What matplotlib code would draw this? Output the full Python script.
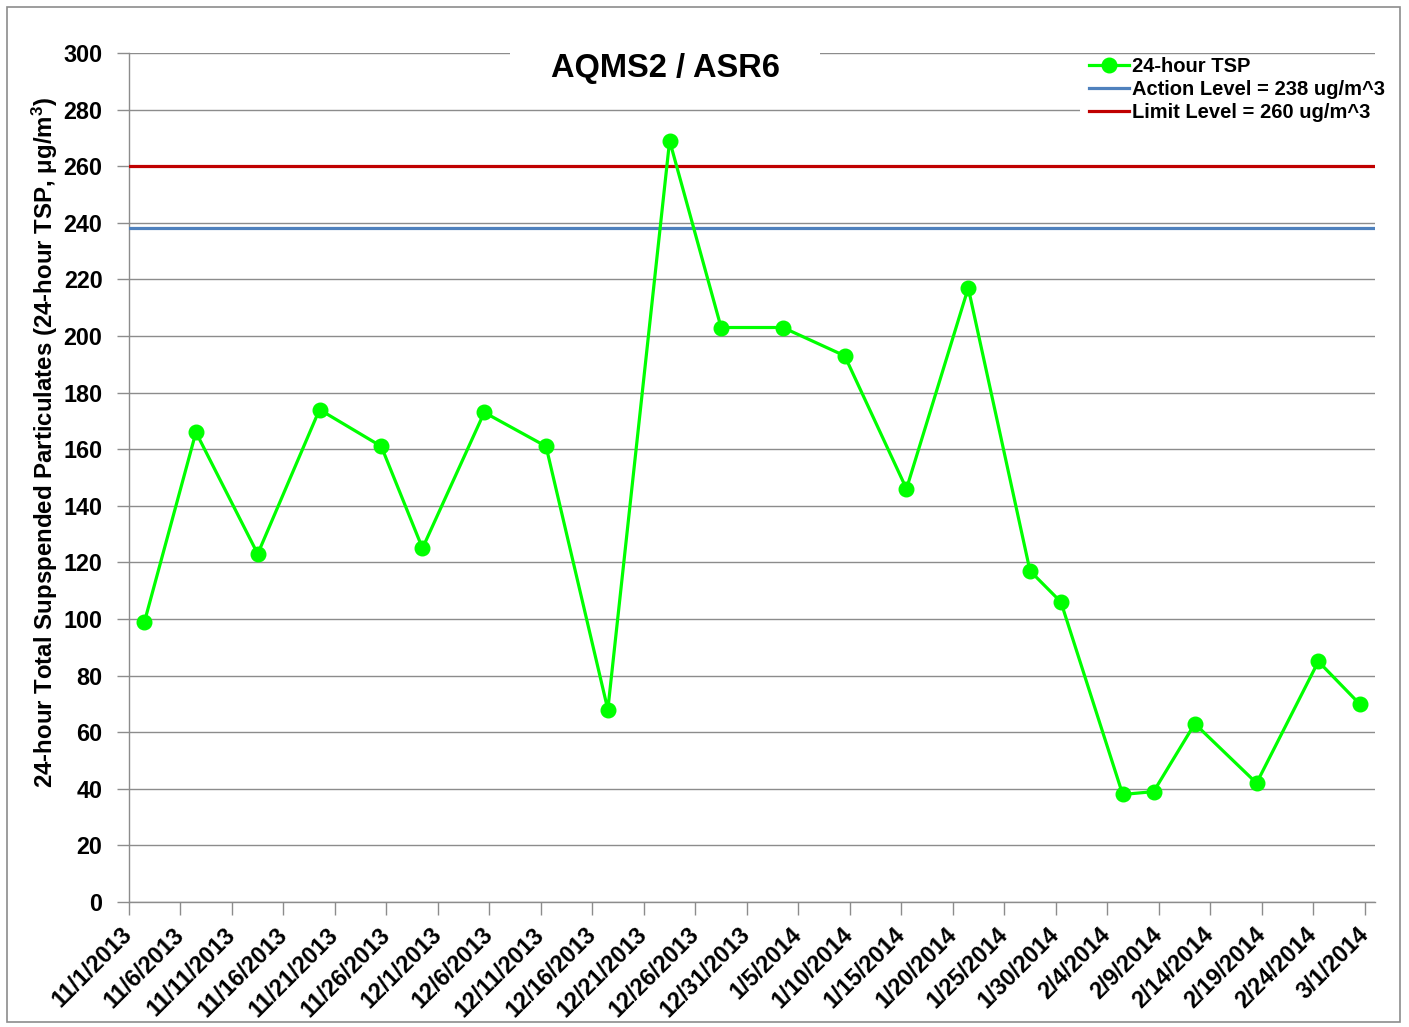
import matplotlib
matplotlib.use("Agg")
import matplotlib.pyplot as plt
from matplotlib.patches import Rectangle
from datetime import datetime, timedelta

dates = ["2013-11-02", "2013-11-07", "2013-11-13", "2013-11-19", "2013-11-25", "2013-11-29",
         "2013-12-05", "2013-12-11", "2013-12-17", "2013-12-23", "2013-12-28", "2014-01-03",
         "2014-01-09", "2014-01-15", "2014-01-21", "2014-01-27", "2014-01-30", "2014-02-05",
         "2014-02-08", "2014-02-12", "2014-02-18", "2014-02-24", "2014-02-28"]
tsp = [99, 166, 123, 174, 161, 125, 173, 161, 68, 269, 203, 203, 193, 146, 217, 117, 106,
       38, 39, 63, 42, 85, 70]
action_level = 238
limit_level = 260
tick_labels = ["11/1/2013", "11/6/2013", "11/11/2013", "11/16/2013", "11/21/2013", "11/26/2013",
               "12/1/2013", "12/6/2013", "12/11/2013", "12/16/2013", "12/21/2013", "12/26/2013",
               "12/31/2013", "1/5/2014", "1/10/2014", "1/15/2014", "1/20/2014", "1/25/2014",
               "1/30/2014", "2/4/2014", "2/9/2014", "2/14/2014", "2/19/2014", "2/24/2014", "3/1/2014"]
y_ticks = [0, 20, 40, 60, 80, 100, 120, 140, 160, 180, 200, 220, 240, 260, 280, 300]

plt.rcParams['font.family'] = ['Liberation Sans', 'DejaVu Sans']
plt.rcParams['font.weight'] = 'bold'
plt.rcParams['mathtext.fontset'] = 'custom'
plt.rcParams['mathtext.bf'] = 'Liberation Sans:bold'
plt.rcParams['mathtext.rm'] = 'Liberation Sans:bold'
plt.rcParams['mathtext.default'] = 'bf'

W, H = 1409, 1027
fig = plt.figure(figsize=(W / 100, H / 100), dpi=100)
fig.patches.append(Rectangle((7 / W, 5 / H), (1400 - 7) / W, (1022 - 7) / H, transform=fig.transFigure,
                             fill=False, edgecolor='#8c8c8c', linewidth=1.2))
ax = fig.add_axes([129 / W, 1 - 902 / H, (1375 - 129) / W, (902 - 53) / H])

# points are centred in their day (Excel date-axis style)
xs = [datetime.strptime(d, "%Y-%m-%d") + timedelta(hours=12) for d in dates]
tick_dates = [datetime.strptime(t, "%m/%d/%Y") for t in tick_labels]
x0 = datetime(2013, 11, 1)
x1 = datetime(2014, 3, 2)

ax.plot(xs, tsp, color='#00FF00', linewidth=2.3, marker='o', markersize=10.5, label='24-hour TSP', zorder=4)
ax.plot([x0, x1], [action_level, action_level], color='#4F81BD', linewidth=2.3,
        label='Action Level = 238 ug/m^3', zorder=3)
ax.plot([x0, x1], [limit_level, limit_level], color='#C00000', linewidth=2.3,
        label='Limit Level = 260 ug/m^3', zorder=3)

ax.set_xlim(x0, x1)
ax.set_ylim(0, 300)
ax.set_yticks(y_ticks)
ax.set_xticks(tick_dates)
ax.set_xticklabels(tick_labels, rotation=45, ha='right', va='center', rotation_mode='anchor')
ax.tick_params(axis='both', labelsize=16.8, labelcolor='#000000', length=9, width=1,
               direction='out', color='#8c8c8c')
ax.tick_params(axis='x', pad=12)
ax.tick_params(axis='y', pad=10)
for lab in ax.get_xticklabels() + ax.get_yticklabels():
    lab.set_fontweight('bold')
ax.grid(axis='y', color='#8c8c8c', linewidth=1)
ax.set_axisbelow(True)
for s in ['top', 'right']:
    ax.spines[s].set_visible(False)
for s in ['left', 'bottom']:
    ax.spines[s].set_color('#8c8c8c')
    ax.spines[s].set_linewidth(1)

fig.text(45 / W, 1 - 442 / H,
         '24-hour Total Supspended Particulates (24-hour TSP, μg/m$^{3}$)',
         fontsize=17.3, fontweight='bold', rotation=90, ha='center', va='center')

# white boxes behind title and legend (hide gridlines there)
fig.patches.append(Rectangle((510 / W, 1 - 100 / H), 310 / W, 52 / H, transform=fig.transFigure,
                             facecolor='white', edgecolor='none', zorder=3))
fig.patches.append(Rectangle((1080 / W, 1 - 126 / H), 318 / W, 70 / H, transform=fig.transFigure,
                             facecolor='white', edgecolor='none', zorder=3))
fig.text(665 / W, 1 - 69 / H, 'AQMS2 / ASR6', fontsize=23.5, fontweight='bold', ha='center',
         va='center', zorder=5)

leg = fig.legend(loc='upper left', bbox_to_anchor=(1078 / W, 1 - 46 / H), frameon=False,
                 handlelength=2.0, handletextpad=0.15, labelspacing=0.2,
                 borderpad=0.05, prop={'weight': 'bold', 'size': 14.5})
leg.set_zorder(6)

fig.savefig('out.png', dpi=100, facecolor='white')
